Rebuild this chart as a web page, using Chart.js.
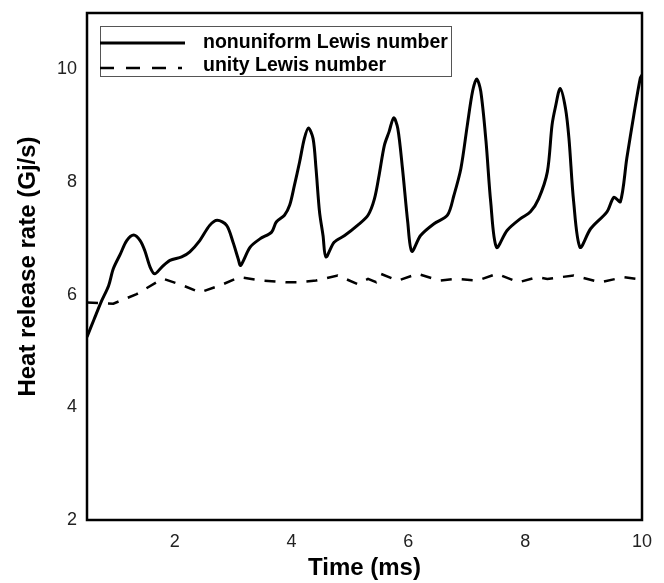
<!DOCTYPE html>
<html>
<head>
<meta charset="utf-8">
<script src="https://cdn.jsdelivr.net/npm/chart.js@4/dist/chart.umd.min.js"></script>
<style>
  html, body { margin:0; padding:0; background:#fff; }
  #wrap { width:664px; height:583px; }
</style>
</head>
<body>
<div id="wrap"><canvas id="chart" width="664" height="583"></canvas></div>
<script>
// ---- data ----
const seriesNames = ["nonuniform Lewis number", "unity Lewis number"];

const solidTime = [0.50,0.62,0.75,0.87,0.95,1.07,1.18,1.30,1.41,1.49,1.58,1.66,1.78,1.92,2.12,2.26,2.43,2.60,2.73,2.89,3.00,3.09,3.13,3.29,3.46,3.66,3.74,3.88,3.97,4.05,4.14,4.22,4.29,4.37,4.42,4.48,4.54,4.59,4.73,4.91,5.13,5.31,5.42,5.50,5.59,5.67,5.75,5.82,5.90,5.99,6.06,6.21,6.44,6.67,6.78,6.90,7.01,7.10,7.17,7.24,7.33,7.41,7.51,7.69,7.92,8.09,8.23,8.38,8.46,8.52,8.60,8.69,8.75,8.83,8.94,9.12,9.40,9.52,9.63,9.74,9.86,9.97,10.0];
const solidRate = [5.25,5.56,5.89,6.16,6.46,6.72,6.96,7.06,6.96,6.78,6.49,6.37,6.49,6.61,6.67,6.76,6.96,7.23,7.32,7.23,6.93,6.63,6.52,6.84,6.99,7.11,7.29,7.41,7.59,7.94,8.36,8.77,8.96,8.77,8.24,7.47,7.05,6.67,6.93,7.05,7.23,7.41,7.70,8.12,8.65,8.89,9.14,8.95,8.24,7.29,6.77,7.05,7.26,7.41,7.76,8.24,9.01,9.61,9.83,9.61,8.72,7.65,6.84,7.14,7.35,7.47,7.70,8.18,9.01,9.34,9.66,9.31,8.77,7.65,6.84,7.17,7.47,7.73,7.65,8.42,9.19,9.84,9.90];

const dashTime = [0.50,0.95,1.35,1.69,1.81,2.15,2.43,2.77,3.11,3.51,3.91,4.11,4.42,4.79,5.13,5.31,5.45,5.53,5.82,6.16,6.53,6.81,7.18,7.52,7.89,8.20,8.38,8.83,9.29,9.68,9.91,10.0];
const dashRate = [5.86,5.84,6.01,6.22,6.28,6.16,6.04,6.16,6.31,6.25,6.22,6.22,6.25,6.34,6.19,6.28,6.22,6.37,6.25,6.37,6.25,6.28,6.25,6.37,6.22,6.31,6.28,6.34,6.22,6.31,6.28,6.30];

const xTicks = [2,4,6,8,10];
const yTicks = [2,4,6,8,10];

const toPoints = (xs, ys) => xs.map((x,i) => ({x:x, y:ys[i]}));

// frame + legend drawn inside the plot
const framePlugin = {
  id:"frame",
  afterDraw(chart){
    const {ctx, chartArea:a} = chart;
    ctx.save();
    ctx.strokeStyle = "#000";
    ctx.lineWidth = 2.5;
    ctx.strokeRect(a.left, a.top, a.right - a.left, a.bottom - a.top);

    // legend box
    const bx = 100, by = 26, bw = 351, bh = 50;
    ctx.fillStyle = "#fff";
    ctx.fillRect(bx, by, bw, bh);
    ctx.lineWidth = 1;
    ctx.strokeStyle = "#555";
    ctx.strokeRect(bx + 0.5, by + 0.5, bw, bh);

    ctx.strokeStyle = "#000";
    ctx.lineWidth = 3;
    ctx.beginPath(); ctx.moveTo(bx, 43); ctx.lineTo(185, 43); ctx.stroke();
    ctx.lineWidth = 2.5;
    ctx.setLineDash([14, 12]);
    ctx.beginPath(); ctx.moveTo(bx, 68); ctx.lineTo(182, 68); ctx.stroke();
    ctx.setLineDash([]);

    ctx.fillStyle = "#000";
    ctx.font = "bold 19.5px 'Liberation Sans', Arial, sans-serif";
    ctx.textBaseline = "middle";
    ctx.textAlign = "left";
    ctx.fillText(seriesNames[0], 203, 43);
    ctx.fillText(seriesNames[1], 203, 66);
    ctx.restore();
  }
};

const ctx = document.getElementById("chart");
new Chart(ctx, {
  type:"line",
  data:{
    datasets:[
      {
        label: seriesNames[0],
        data: toPoints(solidTime, solidRate),
        borderColor:"#000",
        borderWidth:3,
        pointRadius:0,
        tension:0.3
      },
      {
        label: seriesNames[1],
        data: toPoints(dashTime, dashRate),
        borderColor:"#000",
        borderWidth:2.5,
        borderDash:[11, 10],
        pointRadius:0,
        tension:0
      }
    ]
  },
  options:{
    responsive:false,
    animation:false,
    layout:{ padding:{ top:13, right:22, bottom:0, left:0 } },
    plugins:{ legend:{ display:false }, tooltip:{ enabled:false } },
    scales:{
      x:{
        type:"linear",
        min:0.5, max:10,
        grid:{ display:false, drawTicks:false },
        border:{ display:false },
        afterBuildTicks: s => { s.ticks = xTicks.map(v => ({value:v})); },
        afterFit: s => { s.height = 63; s.paddingLeft = 0; s.paddingRight = 0; },
        ticks:{
          padding:11,
          maxRotation:0,
          color:"#222",
          font:{ family:"'Liberation Sans', Arial, sans-serif", size:18 }
        },
        title:{
          display:true,
          text:"Time (ms)",
          color:"#000",
          padding:{ top:0, bottom:0 },
          font:{ family:"'Liberation Sans', Arial, sans-serif", size:24, weight:"bold" }
        }
      },
      y:{
        min:2, max:11,
        grid:{ display:false, drawTicks:false },
        border:{ display:false },
        afterBuildTicks: s => { s.ticks = yTicks.map(v => ({value:v})); },
        afterFit: s => { s.width = 87; s.paddingTop = 0; s.paddingBottom = 0; },
        ticks:{
          padding:10,
          color:"#222",
          font:{ family:"'Liberation Sans', Arial, sans-serif", size:18 }
        },
        title:{
          display:true,
          text:"Heat release rate (Gj/s)",
          color:"#000",
          padding:{ top:14, bottom:0 },
          font:{ family:"'Liberation Sans', Arial, sans-serif", size:24, weight:"bold" }
        }
      }
    }
  },
  plugins:[framePlugin]
});
</script>
</body>
</html>
